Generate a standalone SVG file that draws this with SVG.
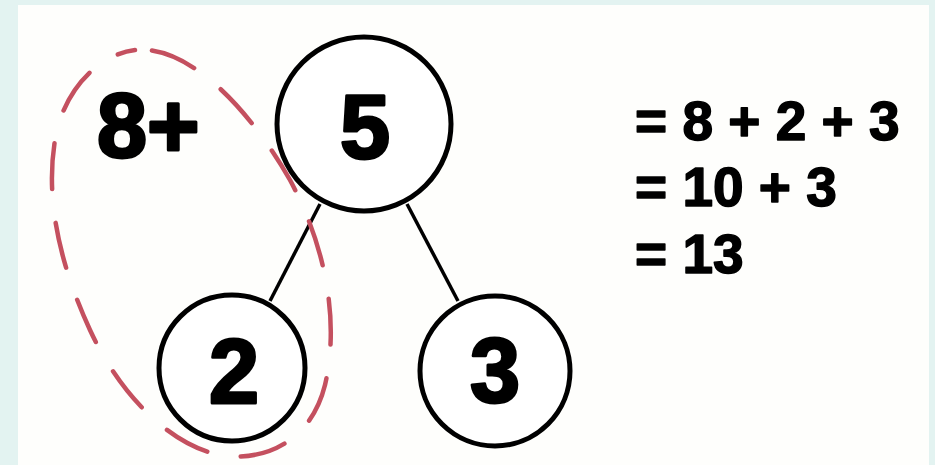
<svg xmlns="http://www.w3.org/2000/svg" width="935" height="465" viewBox="0 0 935 465">
<style>
.node circle{fill:#fff;stroke:#000;stroke-width:5}
.num{font-family:"Liberation Sans",Arial,sans-serif;font-weight:bold;fill:#000;stroke:#000;stroke-width:3;stroke-linejoin:round}
.big{font-size:90px;text-anchor:middle}
.eq{font-size:55px;stroke-width:1.5}
.edge{stroke:#000;stroke-width:3.5;fill:none}
.loop{fill:none;stroke:#c4505f;stroke-width:4.5;stroke-dasharray:46 34;stroke-dashoffset:63;stroke-linecap:round}
</style>
<rect x="0" y="0" width="935" height="465" fill="#e3f3f1"/>
<rect x="18" y="5" width="911" height="460" fill="#fefefc"/>
<g id="connectors">
<line class="edge" x1="320" y1="204" x2="270" y2="301"/>
<line class="edge" x1="407" y1="204" x2="458" y2="301"/>
</g>
<g id="node-5" class="node"><circle cx="364" cy="124" r="87"/><text class="num big" x="365" y="158">5</text></g>
<g id="node-2" class="node"><circle cx="232" cy="368" r="73"/><text class="num big" x="234" y="403">2</text></g>
<g id="node-3" class="node"><circle cx="495" cy="371" r="75"/><text class="num big" x="495" y="402">3</text></g>
<g id="label-8plus"><text class="num" x="97" y="157" font-size="90">8+</text></g>
<path id="loop" class="loop" d="M135,50 C190,45 250,110 290,180 C325,245 340,320 325,385 C310,445 260,462 220,455 C170,445 120,395 90,330 C60,265 45,200 55,140 C62,95 95,55 135,50 Z"/>
<g id="equations">
<text class="num eq" x="635" y="140">= 8 + 2 + 3</text>
<text class="num eq" x="635" y="206">= 10 + 3</text>
<text class="num eq" x="635" y="273">= 13</text>
</g>
</svg>
